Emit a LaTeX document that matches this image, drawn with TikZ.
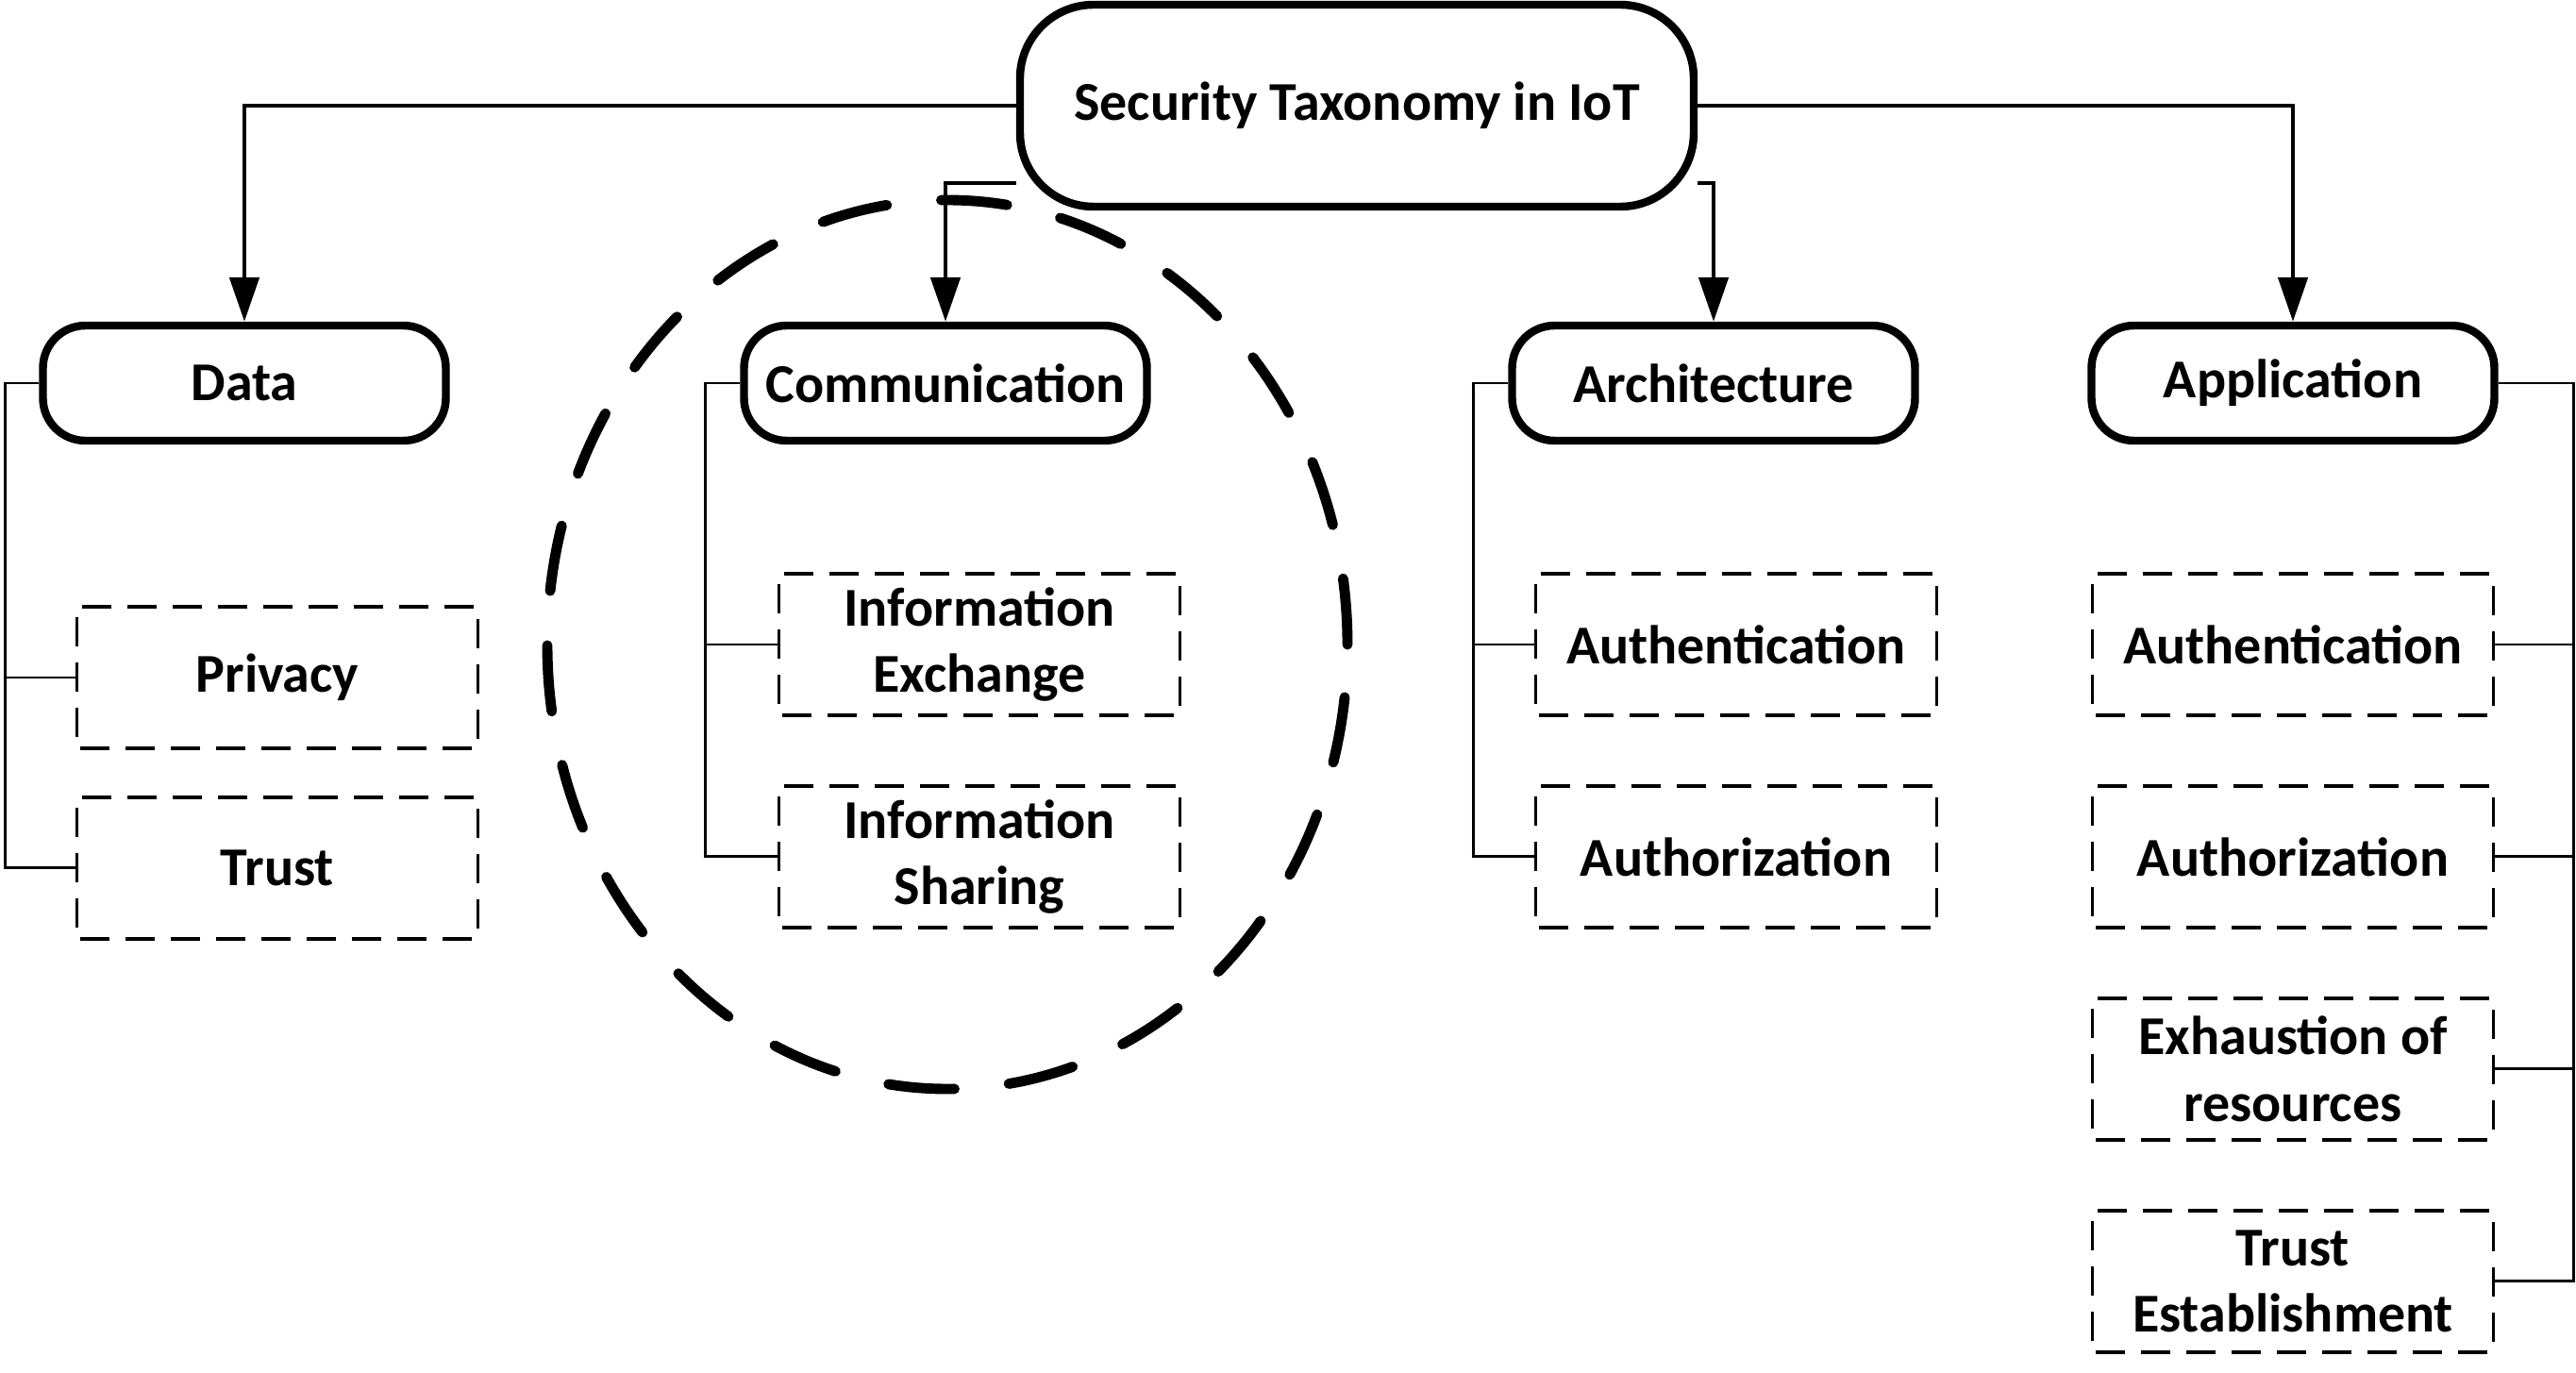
\documentclass[tikz,border=0pt]{standalone}
\usepackage{fontspec}
\setmainfont{Carlito}
\usepackage{tikz}
\usetikzlibrary{positioning, arrows.meta, backgrounds}
\tikzset{
  root/.style={
    draw, line width=2.4pt, rounded corners=0.78cm, fill=white,
    minimum width=7.14cm, minimum height=2.14cm,
    font=\fontsize{16.5}{20}\selectfont\bfseries
  },
  category/.style={
    draw, line width=2.4pt, rounded corners=0.45cm, fill=white,
    minimum width=4.27cm, minimum height=1.22cm,
    font=\fontsize{16.5}{20}\selectfont\bfseries
  },
  item/.style={
    draw, line width=1.1pt, dash pattern=on 0.31cm off 0.17cm, dash phase=0.445cm,
    fill=white, minimum width=4.25cm, minimum height=1.5cm, align=center,
    font=\fontsize{16.5}{20}\selectfont\bfseries
  },
  branch/.style={draw, line width=1.4pt, -{Triangle[length=0.47cm, width=0.31cm]}},
  tree/.style={draw, line width=0.8pt},
  focus/.style={line width=3.1pt, dash pattern=on 0.7cm off 0.58cm, line cap=round},
}

\begin{document}
\begin{tikzpicture}
  \useasboundingbox (0,0) rectangle (27.3,-14.55);

  \node[root] (root) at (14.38,-1.12) {Security Taxonomy in IoT};
  \node[category] (data) at (2.59,-4.06) {Data};
  \node[category] (comm) at (10.02,-4.06) {Communication};
  \node[category] (arch) at (18.16,-4.06) {Architecture};
  \node[category] (app) at (24.30,-4.06) {Application};

  \node[item] (privacy) at (2.94,-7.18) {Privacy};
  \node[item, below=0.48cm of privacy] (trust) {Trust};
  \node[item] (exchange) at (10.38,-6.83) {Information\\Exchange};
  \node[item, below=0.71cm of exchange] (sharing) {Information\\Sharing};
  \node[item] (archauth) at (18.40,-6.83) {Authentication};
  \node[item, below=0.71cm of archauth] (archauthz) {Authorization};
  \node[item] (appauth) at (24.30,-6.83) {Authentication};
  \node[item, below=0.71cm of appauth] (appauthz) {Authorization};
  \node[item, below=0.71cm of appauthz] (exhaust) {Exhaustion of\\resources};
  \node[item, below=0.71cm of exhaust] (trustest) {Trust\\Establishment};

  \begin{scope}[on background layer]
    \draw[branch] (root.west) -| (data.north);
    \draw[branch] ([yshift=-0.82cm]root.west) -| (comm.north);
    \draw[branch] ([yshift=-0.82cm]root.east) -| (arch.north);
    \draw[branch] (root.east) -| (app.north);

    \draw[tree] (data.west) -- ++(-0.36,0) |- (privacy.west);
    \draw[tree] (data.west) -- ++(-0.36,0) |- (trust.west);
    \draw[tree] (comm.west) -- ++(-0.37,0) |- (exchange.west);
    \draw[tree] (comm.west) -- ++(-0.37,0) |- (sharing.west);
    \draw[tree] (arch.west) -- ++(-0.37,0) |- (archauth.west);
    \draw[tree] (arch.west) -- ++(-0.37,0) |- (archauthz.west);

    \draw[tree] (app.east) -- ++(0.8,0) |- (appauth.east);
    \draw[tree] (app.east) -- ++(0.8,0) |- (appauthz.east);
    \draw[tree] (app.east) -- ++(0.8,0) |- (exhaust.east);
    \draw[tree] (app.east) -- ++(0.8,0) |- (trustest.east);
  \end{scope}

  \draw[focus] (10.04,-6.83) ellipse [x radius=4.24, y radius=4.71];
\end{tikzpicture}
\end{document}
